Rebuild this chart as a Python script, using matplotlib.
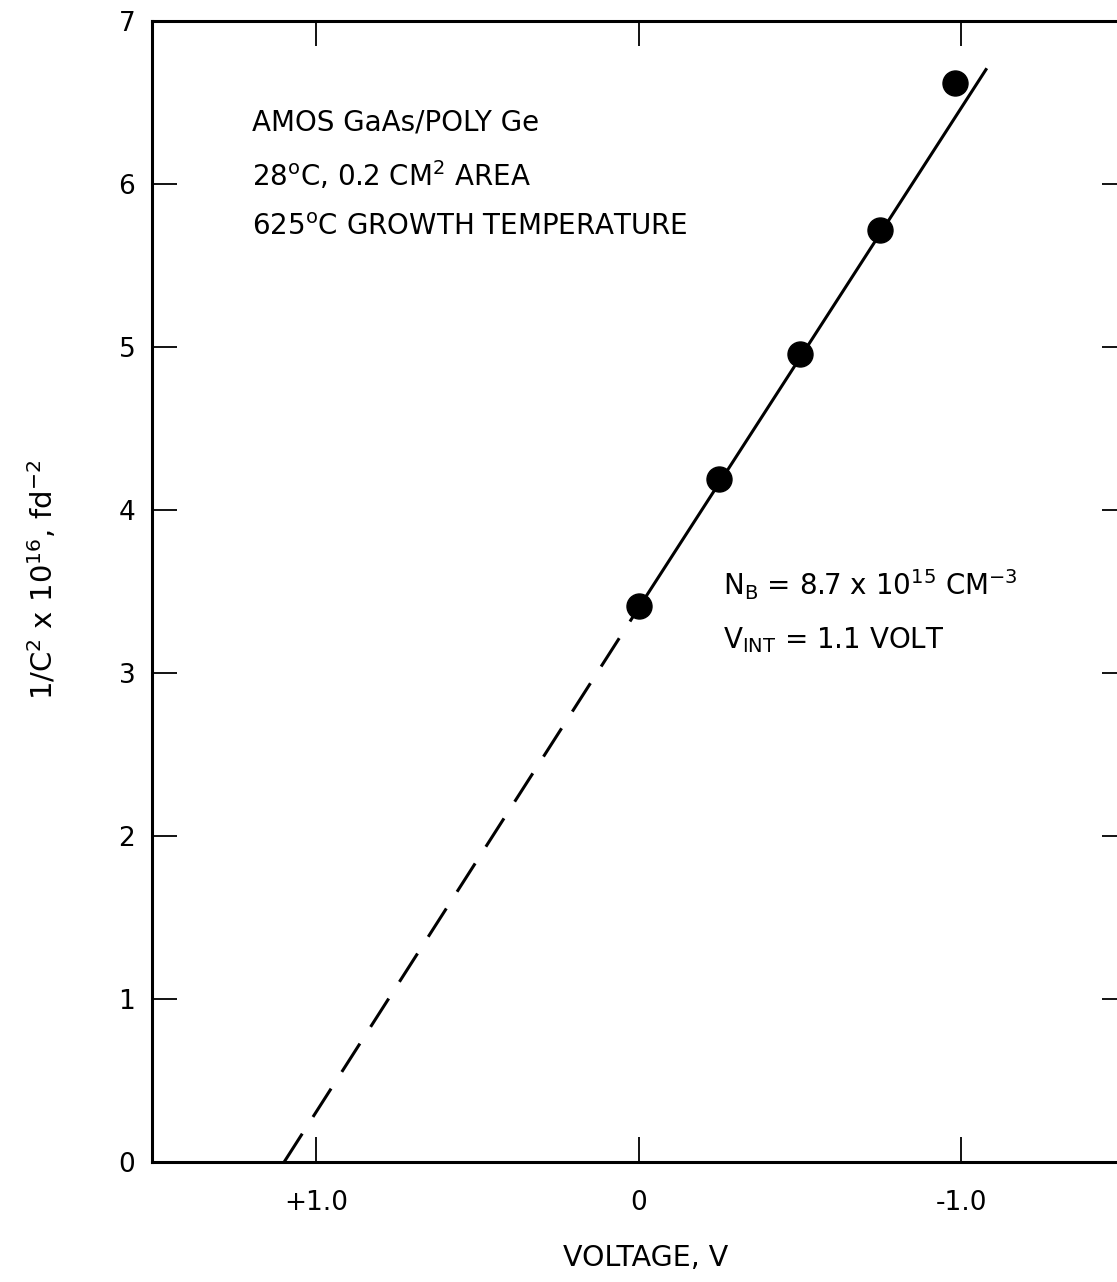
import matplotlib
matplotlib.use("Agg")
import matplotlib.pyplot as plt

plt.rcParams['font.family'] = ['DejaVu Sans']
plt.rcParams['mathtext.fontset'] = 'dejavusans'

# Data
voltage = [0.0, -0.25, -0.50, -0.75, -0.98]
inv_c2 = [3.41, 4.19, 4.96, 5.72, 6.62]

fit_solid_v = [0.0, -1.08]
fit_solid_y = [3.40, 6.71]
fit_dash_v = [1.10, 0.0]
fit_dash_y = [0.0, 3.40]

x_ticks = [1.0, 0.0, -1.0]
x_tick_labels = ["+1.0", "0", "-1.0"]
y_ticks = [0, 1, 2, 3, 4, 5, 6, 7]
y_tick_labels = ["0", "1", "2", "3", "4", "5", "6", "7"]

W, H = 1117, 1282
fig = plt.figure(figsize=(W/100, H/100), dpi=100)
ax = fig.add_axes([152/W, 1-1162/H, (1127-152)/W, (1162-21)/H])

ax.plot(fit_solid_v, fit_solid_y, color='black', lw=2.2, solid_capstyle='butt')
ax.plot(fit_dash_v, fit_dash_y, color='black', lw=2.2, dashes=(11, 6.5), dash_capstyle='butt')
ax.plot(voltage, inv_c2, 'o', color='black', markersize=18)

ax.set_xlim(1.51, -1.515)
ax.set_ylim(0, 7)

ax.set_xticks(x_ticks)
ax.set_xticklabels(x_tick_labels)
ax.set_yticks(y_ticks)
ax.set_yticklabels(y_tick_labels)
ax.tick_params(direction='in', length=18, width=1.3, top=True, right=True,
               labelsize=19)
ax.tick_params(axis='y', pad=12)
ax.tick_params(axis='x', pad=20)
for s in ax.spines.values():
    s.set_linewidth(2.2)

fig.text(646/W, 1-1258/H, "VOLTAGE, V", fontsize=20.5, ha='center', va='center')
fig.text(43/W, 1-580/H, "1/C$^{2}$ x 10$^{16}$, fd$^{-2}$", fontsize=21,
         rotation=90, ha='center', va='center')

fs = 20
ax.text(1.2, 6.33, "AMOS GaAs/POLY Ge", fontsize=fs, va='baseline', ha='left')
ax.text(1.2, 5.99, "28$^{\\mathrm{o}}$C, 0.2 CM$^{2}$ AREA", fontsize=fs, va='baseline', ha='left')
ax.text(1.2, 5.69, "625$^{\\mathrm{o}}$C GROWTH TEMPERATURE", fontsize=fs, va='baseline', ha='left')
ax.text(-0.262, 3.48, "N$_{\\mathrm{B}}$ = 8.7 x 10$^{15}$ CM$^{-3}$", fontsize=fs, va='baseline', ha='left')
ax.text(-0.262, 3.15, "V$_{\\mathrm{INT}}$ = 1.1 VOLT", fontsize=fs, va='baseline', ha='left')

fig.savefig("out.png", dpi=100)
